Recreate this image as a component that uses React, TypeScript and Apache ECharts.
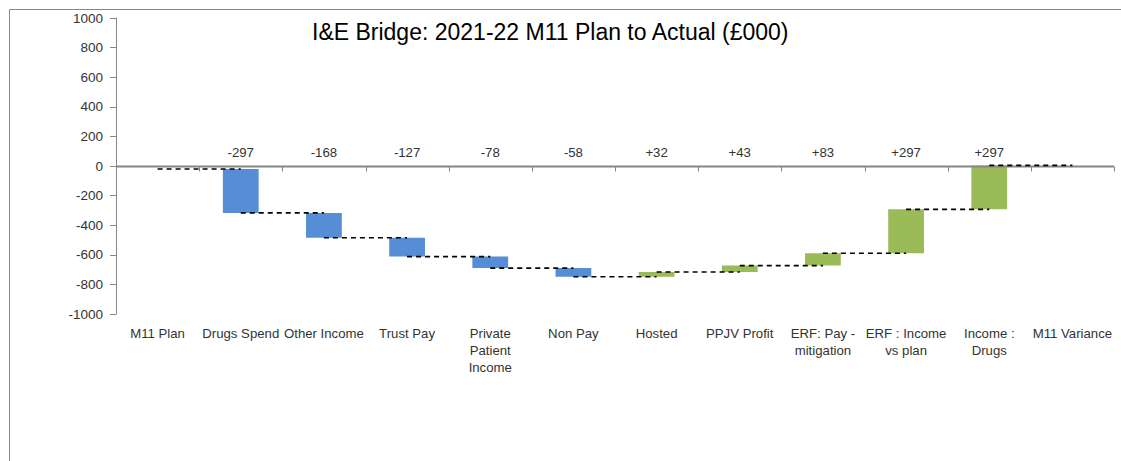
import React, { useEffect, useRef } from "react";
import * as echarts from "echarts";

const categories = [
  "M11 Plan",
  "Drugs Spend",
  "Other Income",
  "Trust Pay",
  "Private\nPatient\nIncome",
  "Non Pay",
  "Hosted",
  "PPJV Profit",
  "ERF: Pay -\nmitigation",
  "ERF : Income\nvs plan",
  "Income :\nDrugs",
  "M11 Variance",
];
const planValue = -20;
const changes = [-297, -168, -127, -78, -58, 32, 43, 83, 297, 297];
const changeLabels = ["-297", "-168", "-127", "-78", "-58", "+32", "+43", "+83", "+297", "+297"];
const yTicks = { min: -1000, max: 1000, interval: 200 };

const BLUE = "#558ED5";
const GREEN = "#9BBB59";
const FONT = "'Liberation Sans', Arial, sans-serif";

export default function App() {
  const ref = useRef<HTMLDivElement>(null);
  useEffect(() => {
    if (!ref.current) return;
    const chart = echarts.init(ref.current, undefined, { renderer: "svg" });

    const bars: any[] = [];
    const connectors: any[] = [];
    const labels: any[] = [];
    let level = planValue;
    connectors.push([0, level]);
    changes.forEach((c, k) => {
      const i = k + 1;
      const start = level;
      const end = level + c;
      bars.push([i, start, end, c < 0 ? BLUE : GREEN]);
      labels.push([i, 0, changeLabels[k]]);
      level = end;
      connectors.push([i, level]);
    });

    chart.setOption({
      animation: false,
      grid: { left: 116, right: 7, top: 18, bottom: 147, containLabel: false },
      xAxis: {
        type: "category",
        data: categories,
        axisLine: { show: false, onZero: false },
        axisTick: { show: false },
        axisLabel: {
          interval: 0,
          color: "#333",
          fontFamily: FONT,
          fontSize: 13.2,
          lineHeight: 17,
          margin: 11,
        },
        splitLine: { show: false },
      },
      yAxis: {
        type: "value",
        min: yTicks.min,
        max: yTicks.max,
        interval: yTicks.interval,
        axisLine: { show: true, lineStyle: { color: "#868686", width: 1 } },
        axisTick: { show: true, length: 6, lineStyle: { color: "#868686" } },
        axisLabel: {
          color: "#333",
          fontFamily: FONT,
          fontSize: 13.5,
          margin: 13,
          formatter: (v: number) => String(v),
        },
        splitLine: { show: false },
      },
      graphic: [
        {
          type: "line",
          shape: { x1: 9.5, y1: 9.5, x2: 1121, y2: 9.5 },
          style: { stroke: "#888", lineWidth: 1 },
        },
        {
          type: "line",
          shape: { x1: 9.5, y1: 9.5, x2: 9.5, y2: 461 },
          style: { stroke: "#888", lineWidth: 1 },
        },
        {
          type: "text",
          x: 312,
          y: 32,
          style: {
            text: "I&E Bridge: 2021-22 M11 Plan to Actual (£000)",
            fill: "#000",
            font: "23px 'Liberation Sans', Arial, sans-serif",
            textVerticalAlign: "middle",
          },
        },
      ],
      series: [
        {
          type: "custom",
          name: "zeroAxis",
          data: [[0, 0]],
          silent: true,
          z: 3,
          renderItem: (params: any, api: any) => {
            const p0 = api.coord([0, 0]);
            const w = api.size([1, 0])[0];
            const x0 = p0[0] - w / 2;
            const y = Math.round(p0[1]) + 0.5;
            const children: any[] = [
              {
                type: "line",
                shape: { x1: x0, y1: y, x2: x0 + w * categories.length, y2: y },
                style: { stroke: "#868686", lineWidth: 2 },
              },
            ];
            for (let i = 0; i <= categories.length; i++) {
              const x = Math.round(x0 + w * i) + 0.5;
              children.push({
                type: "line",
                shape: { x1: x, y1: y, x2: x, y2: y + 5 },
                style: { stroke: "#868686", lineWidth: 1 },
              });
            }
            return { type: "group", children };
          },
        },
        {
          type: "custom",
          name: "bars",
          data: bars,
          z: 2,
          renderItem: (params: any, api: any) => {
            const i = api.value(0);
            const a = api.coord([i, api.value(1)]);
            const b = api.coord([i, api.value(2)]);
            const w = api.size([1, 0])[0] * 0.43;
            return {
              type: "rect",
              shape: { x: a[0] - w / 2, y: Math.min(a[1], b[1]), width: w, height: Math.abs(b[1] - a[1]) },
              style: { fill: bars[params.dataIndex][3] },
            };
          },
        },
        {
          type: "custom",
          name: "connectors",
          data: connectors,
          z: 4,
          renderItem: (params: any, api: any) => {
            const i = api.value(0);
            if (i >= categories.length - 1) return null;
            const a = api.coord([i, api.value(1)]);
            const b = api.coord([i + 1, api.value(1)]);
            return {
              type: "line",
              shape: { x1: a[0], y1: a[1], x2: b[0], y2: b[1] },
              style: { stroke: "#000", lineWidth: 1.6, lineDash: [5, 4] },
            };
          },
        },
        {
          type: "custom",
          name: "labels",
          data: labels,
          z: 5,
          renderItem: (params: any, api: any) => {
            const p = api.coord([api.value(0), 0]);
            return {
              type: "text",
              x: p[0],
              y: p[1] - 14,
              style: {
                text: labels[params.dataIndex][2],
                fill: "#333",
                font: "13.2px 'Liberation Sans', Arial, sans-serif",
                textAlign: "center",
                textVerticalAlign: "middle",
              },
            };
          },
        },
      ],
    });
    return () => chart.dispose();
  }, []);
  return <div ref={ref} style={{ width: 1121, height: 461, position: "absolute", left: 0, top: 0 }} />;
}
